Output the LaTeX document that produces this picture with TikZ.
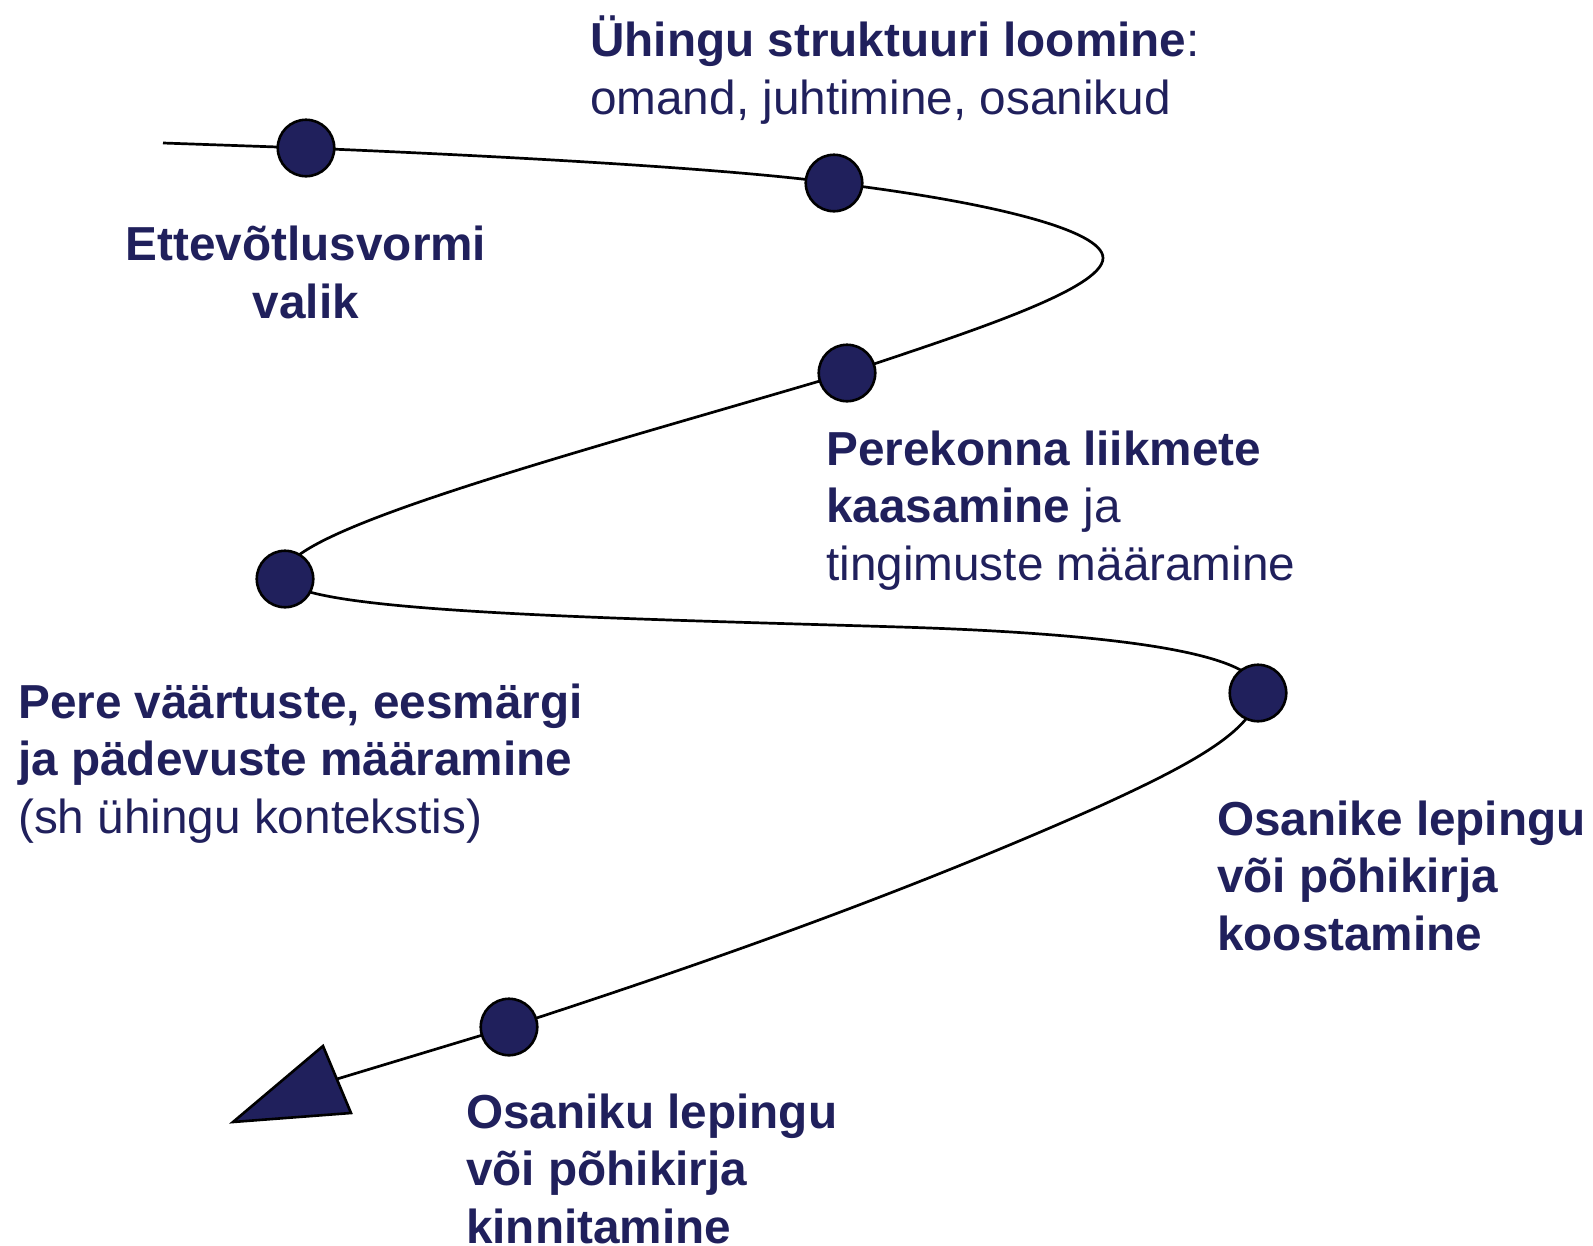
\documentclass[tikz,border=0pt]{standalone}
\usepackage{fontspec}
\setmainfont{Liberation Sans}
\usetikzlibrary{backgrounds}
\definecolor{navy}{RGB}{32,32,92}
\tikzset{
  lbl/.style={anchor=base west, inner sep=0pt, align=left, text=navy, font=\fontsize{47.7}{57.3}\selectfont},
  dot/.style={circle, fill=navy, draw=black, line width=2.6pt, minimum size=56.5pt, inner sep=0pt},
  curve/.style={draw=black, line width=2.7pt},
  tipstyle/.style={fill=navy, draw=black, line width=2.6pt, line join=miter}
}
\begin{document}
\begin{tikzpicture}[x=1pt,y=-1pt]
\useasboundingbox (0,0) rectangle (1593,1245);
\coordinate (s) at (163,143);
\node[dot] (d1) at (306,148) {};
\node[dot] (d2) at (834,183) {};
\node[dot] (d3) at (847,373) {};
\node[dot] (d4) at (285,579) {};
\node[dot] (d5) at (1258,693) {};
\node[dot] (d6) at (509,1027) {};
\coordinate (tipbase) at (337,1079);
\begin{scope}[on background layer]
\draw[curve] (s) -- (d1.center) .. controls (550,158) and (750,171) .. (d2.center)
 .. controls (990,202) and (1103,230) .. (1103,258)
 .. controls (1103,290) and (960,335) .. (d3.center)
 .. controls (560,458) and (265,535) .. (d4.center)
 .. controls (300,612) and (600,618) .. (900,627)
 .. controls (1160,635) and (1262,660) .. (d5.center)
 .. controls (1255,730) and (1190,765) .. (1100,806)
 .. controls (900,895) and (700,965) .. (d6.center)
 -- (tipbase);
\end{scope}
\filldraw[tipstyle] (233,1122) -- (323,1046) -- (351,1113) -- cycle;
\node[lbl, anchor=base, align=center] (t1) at (306,318) {\bfseries Ettevõtlusvormi\\\bfseries valik};
\node[lbl] (t2) at (590,114) {\bfseries Ühingu struktuuri loomine\mdseries:\\omand, juhtimine, osanikud};
\node[lbl] (t3) at (826,580) {\bfseries Perekonna liikmete\\\bfseries kaasamine\mdseries{} ja\\tingimuste määramine};
\node[lbl] (t4) at (18,833) {\bfseries Pere väärtuste, eesmärgi\\\bfseries ja pädevuste määramine\\(sh ühingu kontekstis)};
\node[lbl] (t5) at (1217,950) {\bfseries Osanike lepingu\\\bfseries või põhikirja\\\bfseries koostamine};
\node[lbl] (t6) at (466,1243) {\bfseries Osaniku lepingu\\\bfseries või põhikirja\\\bfseries kinnitamine};
\end{tikzpicture}
\end{document}
